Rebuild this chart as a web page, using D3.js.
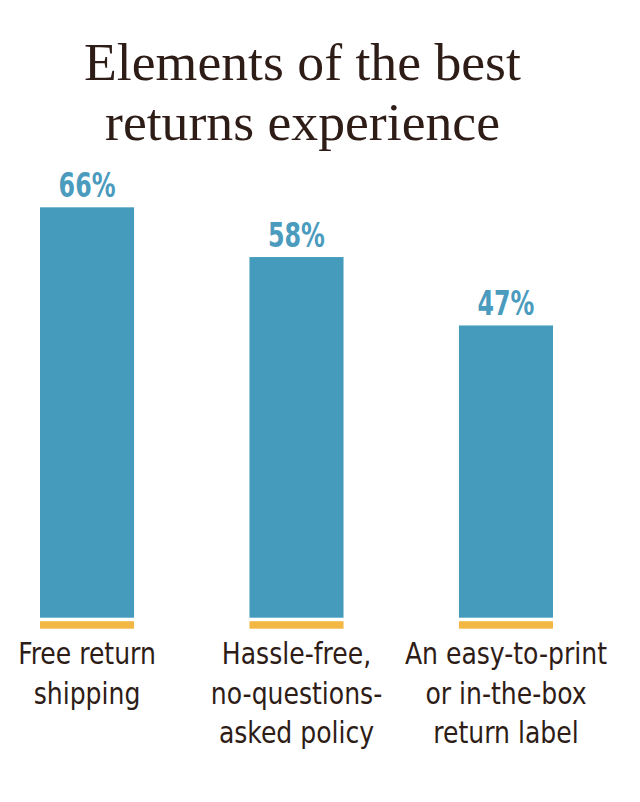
<!DOCTYPE html>
<html>
<head>
<meta charset="utf-8">
<script src="https://cdn.jsdelivr.net/npm/d3@7"></script>
<style>
  html, body { margin: 0; padding: 0; background: #ffffff; }
  svg { display: block; }
</style>
</head>
<body>
<svg id="chart" width="640" height="802"></svg>
<script>
const titleLines = ["Elements of the best", "returns experience"];
const categories = [
  ["Free return", "shipping"],
  ["Hassle-free,", "no-questions-", "asked policy"],
  ["An easy-to-print", "or in-the-box", "return label"]
];
const values = [66, 58, 47];
const valueLabels = ["66%", "58%", "47%"];

const svg = d3.select("#chart");
const baseY = 617.7;

const x = d3.scaleBand()
  .domain(d3.range(values.length))
  .range([40, 553])
  .paddingInner(0.551)
  .paddingOuter(0);

const y = d3.scaleLinear().domain([0, 100]).range([baseY, baseY - 621.8]);

const barColor = "#459bbb";
const labelColor = "#4a9bbd";
const stripColor = "#f2b843";
const textColor = "#2e1c17";
const sansCond = "'Liberation Sans Narrow', 'DejaVu Sans Condensed', sans-serif";

// Title
svg.append("g").selectAll("text")
  .data(titleLines)
  .join("text")
  .attr("x", 302.5)
  .attr("y", (d, i) => 80 + i * 60)
  .attr("text-anchor", "middle")
  .attr("font-family", "'Liberation Serif', 'DejaVu Serif', serif")
  .attr("font-size", 53.7)
  .attr("fill", textColor)
  .text(d => d);

// Bars
svg.append("g").selectAll("rect")
  .data(values)
  .join("rect")
  .attr("x", (d, i) => x(i))
  .attr("y", d => y(d))
  .attr("width", x.bandwidth())
  .attr("height", d => baseY - y(d))
  .attr("fill", barColor);

// Yellow strips
svg.append("g").selectAll("rect")
  .data(values)
  .join("rect")
  .attr("x", (d, i) => x(i))
  .attr("y", baseY + 3.5)
  .attr("width", x.bandwidth())
  .attr("height", 7.5)
  .attr("fill", stripColor);

// Value labels (horizontally condensed)
svg.append("g").selectAll("text")
  .data(values)
  .join("text")
  .attr("transform", (d, i) => `translate(${x(i) + x.bandwidth() / 2},${y(d) - 10.5}) scale(0.8,1)`)
  .attr("text-anchor", "middle")
  .attr("font-family", sansCond)
  .attr("font-weight", "bold")
  .attr("font-size", 33)
  .attr("fill", labelColor)
  .text((d, i) => valueLabels[i]);

// Category labels (horizontally condensed)
const cat = svg.append("g").selectAll("text")
  .data(categories)
  .join("text")
  .attr("transform", (d, i) => `translate(${x(i) + x.bandwidth() / 2},0) scale(0.9,1)`)
  .attr("text-anchor", "middle")
  .attr("font-family", sansCond)
  .attr("font-size", 31)
  .attr("fill", textColor);

cat.selectAll("tspan")
  .data(d => d)
  .join("tspan")
  .attr("x", 0)
  .attr("y", (d, j) => 664 + j * 39.5)
  .text(d => d);
</script>
</body>
</html>
